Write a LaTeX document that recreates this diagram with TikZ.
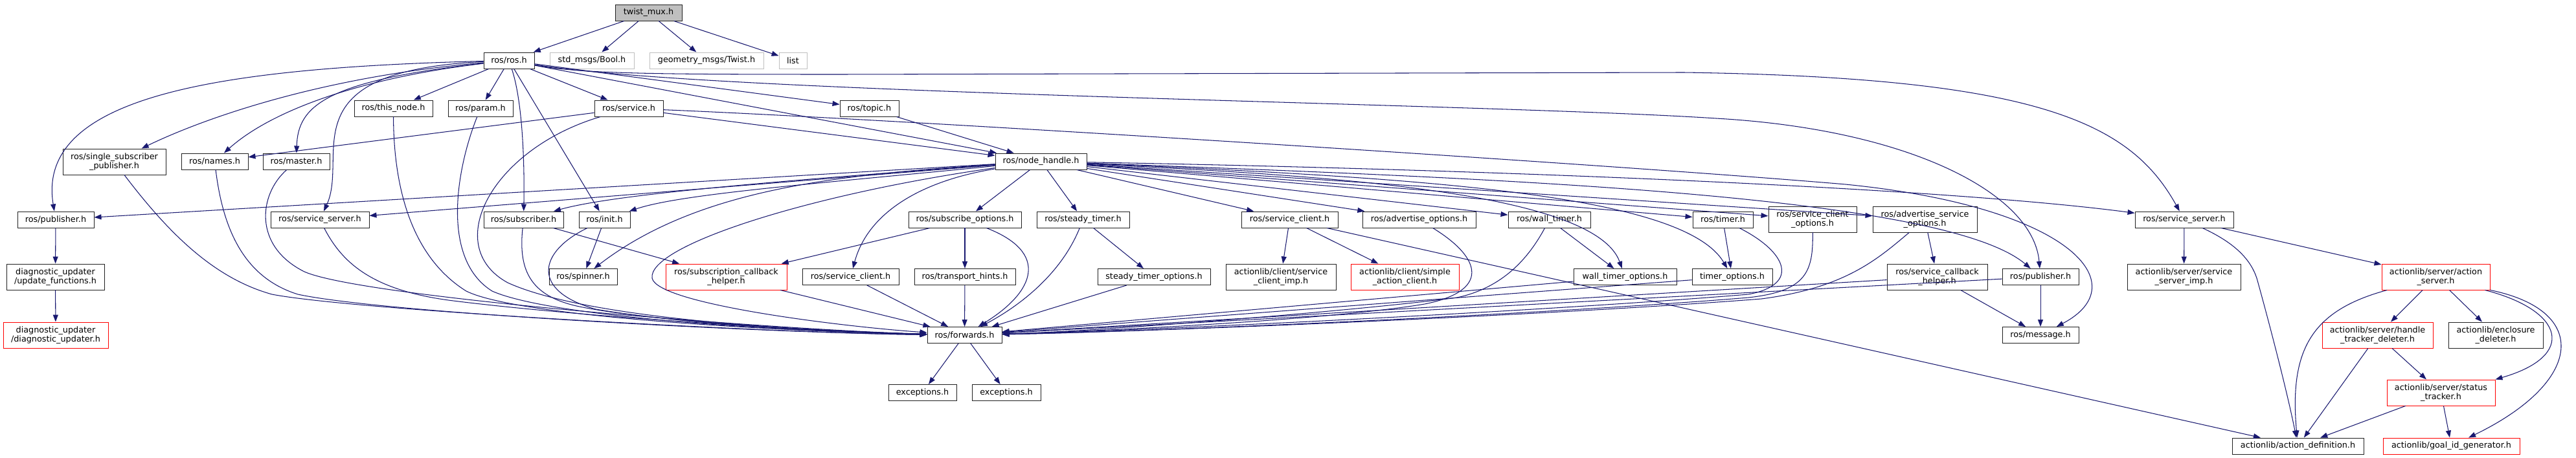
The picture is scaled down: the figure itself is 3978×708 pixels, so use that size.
\documentclass[tikz,border=0pt]{standalone}
\usepackage{fontspec}
\setmainfont{DejaVu Sans}
\usetikzlibrary{arrows.meta,calc}
\definecolor{edgec}{HTML}{191970}
\definecolor{grayc}{HTML}{BFBFBF}
\definecolor{redc}{HTML}{FF0000}
\definecolor{boxc}{HTML}{202020}
\begin{document}
\begin{tikzpicture}[x=1pt,y=-1pt,
  box/.style={draw=boxc, line width=0.95pt, rectangle, inner sep=0pt, align=center,
    font=\fontsize{12.8pt}{14.5pt}\selectfont, text=black},
  nb/.style={box},
  nr/.style={box, draw=redc},
  ng/.style={box, draw=grayc},
  ha/.style={minimum height=25pt},
  hb/.style={minimum height=40pt},
  conn/.style={draw=edgec, line width=1.05pt, -{Triangle[length=11pt,width=8pt]}}]
\useasboundingbox (0,0) rectangle (3978,708);
\fill[white] (0,0) rectangle (3978,708);

% row 0
\node[nb,ha,fill=grayc,minimum width=103pt] (twist) at (1001.5,19.5) {twist\_mux.h};
% row 1
\node[nb,ha,minimum width=78pt] (ros) at (786,93.5) {ros/ros.h};
\node[ng,ha,minimum width=130pt] (bool) at (914,93.5) {std\_msgs/Bool.h};
\node[ng,ha,minimum width=176pt] (twmsg) at (1091,93.5) {geometry\_msgs/Twist.h};
\node[ng,ha,minimum width=43pt] (list) at (1224.5,93.5) {list};
% row 2
\node[nb,ha,minimum width=121pt] (thisnode) at (607.5,167.5) {ros/this\_node.h};
\node[nb,ha,minimum width=100pt] (param) at (742,167.5) {ros/param.h};
\node[nb,ha,minimum width=106pt] (service) at (971,167.5) {ros/service.h};
\node[nb,ha,minimum width=91pt] (topic) at (1342.5,167.5) {ros/topic.h};
% row 3
\node[nb,hb,minimum width=159pt] (ssp) at (176.5,250) {ros/single\_subscriber\\\_publisher.h};
\node[nb,ha,minimum width=103pt] (names) at (331.5,249.5) {ros/names.h};
\node[nb,ha,minimum width=103pt] (master) at (457.5,249.5) {ros/master.h};
\node[nb,ha,minimum width=141pt] (nh) at (1607.5,249.5) {ros/node\_handle.h};
% row 4
\node[nb,ha,minimum width=118pt] (pubL) at (86,339.5) {ros/publisher.h};
\node[nb,ha,minimum width=152pt] (ssL) at (494,339.5) {ros/service\_server.h};
\node[nb,ha,minimum width=123pt] (sub) at (808.5,339.5) {ros/subscriber.h};
\node[nb,ha,minimum width=79pt] (init) at (933.5,339.5) {ros/init.h};
\node[nb,ha,minimum width=174pt] (subopt) at (1490,339.5) {ros/subscribe\_options.h};
\node[nb,ha,minimum width=143pt] (steady) at (1672.5,339.5) {ros/steady\_timer.h};
\node[nb,ha,minimum width=149pt] (scU) at (1991.5,339.5) {ros/service\_client.h};
\node[nb,ha,minimum width=175pt] (advopt) at (2191.5,339.5) {ros/advertise\_options.h};
\node[nb,ha,minimum width=127pt] (wall) at (2392.5,339.5) {ros/wall\_timer.h};
\node[nb,ha,minimum width=93pt] (timer) at (2660.5,339.5) {ros/timer.h};
\node[nb,hb,minimum width=136pt] (scopt) at (2799,339) {ros/service\_client\\\_options.h};
\node[nb,hb,minimum width=161pt] (asopt) at (2972.5,339) {ros/advertise\_service\\\_options.h};
\node[nb,ha,minimum width=152pt] (ssR) at (3373,339.5) {ros/service\_server.h};
% row 5
\node[nb,hb,minimum width=151pt] (upfun) at (85.5,428) {diagnostic\_updater\\/update\_functions.h};
\node[nb,ha,minimum width=105pt] (spinner) at (900.5,428) {ros/spinner.h};
\node[nr,hb,minimum width=187pt] (sch) at (1121.5,428) {ros/subscription\_callback\\\_helper.h};
\node[nb,ha,minimum width=149pt] (scL) at (1313.5,428) {ros/service\_client.h};
\node[nb,ha,minimum width=156pt] (transport) at (1490,428) {ros/transport\_hints.h};
\node[nb,ha,minimum width=174pt] (stopt) at (1782,428) {steady\_timer\_options.h};
\node[nb,hb,minimum width=170pt] (scimp) at (1978,428) {actionlib/client/service\\\_client\_imp.h};
\node[nr,hb,minimum width=167pt] (sac) at (2169.5,428) {actionlib/client/simple\\\_action\_client.h};
\node[nb,ha,minimum width=159pt] (wtopt) at (2509.5,428) {wall\_timer\_options.h};
\node[nb,ha,minimum width=124pt] (topt) at (2675,428) {timer\_options.h};
\node[nb,hb,minimum width=155pt] (sch2) at (2991.5,428) {ros/service\_callback\\\_helper.h};
\node[nb,ha,minimum width=118pt] (pubR) at (3151,428) {ros/publisher.h};
\node[nb,hb,minimum width=175pt] (ssimp) at (3372.5,428) {actionlib/server/service\\\_server\_imp.h};
\node[nr,hb,minimum width=167pt] (aserv) at (3761.5,428) {actionlib/server/action\\\_server.h};
% row 6
\node[nr,hb,minimum width=162pt] (diag) at (86,518) {diagnostic\_updater\\/diagnostic\_updater.h};
\node[nb,ha,minimum width=115pt] (fwd) at (1489.5,518) {ros/forwards.h};
\node[nb,ha,minimum width=118pt] (msg) at (3151,518) {ros/message.h};
\node[nr,hb,minimum width=171pt] (htd) at (3671.5,518) {actionlib/server/handle\\\_tracker\_deleter.h};
\node[nb,hb,minimum width=146pt] (encl) at (3854,518) {actionlib/enclosure\\\_deleter.h};
% row 7
\node[nb,ha,minimum width=105pt] (exca) at (1424.5,607) {exceptions.h};
\node[nb,ha,minimum width=106pt] (excb) at (1554,607) {exceptions.h};
\node[nr,hb,minimum width=167pt] (stat) at (3769.5,607) {actionlib/server/status\\\_tracker.h};
% row 8
\node[nb,ha,minimum width=203pt] (adef) at (3548.5,689.5) {actionlib/action\_definition.h};
\node[nr,ha,minimum width=211pt] (goal) at (3785.5,689.5) {actionlib/goal\_id\_generator.h};

% twist_mux
\draw[conn] (twist) -- (ros);
\draw[conn] (twist) -- (bool);
\draw[conn] (twist) -- (twmsg);
\draw[conn] (twist) -- (list);

% ros/ros.h
\draw[conn] (ros) .. controls (330,105) and (55,150) .. (pubL);
\draw[conn] (ros) .. controls (480,120) and (300,190) .. (ssp);
\draw[conn] (ros) .. controls (560,120) and (420,170) .. (names);
\draw[conn] (ros) .. controls (500,125) and (460,165) .. (master);
\draw[conn] (ros) .. controls (440,110) and (540,240) .. (ssL);
\draw[conn] (ros) -- (thisnode);
\draw[conn] (ros) -- (param);
\draw[conn] (ros) -- (service);
\draw[conn] (ros) .. controls (808,160) and (810,260) .. (sub);
\draw[conn] (ros) -- (init);
\draw[conn] (ros) -- (topic);
\draw[conn] (ros) -- (nh);
\draw[conn] (ros) .. controls (900,114) and (1000,115) .. (1300,115) -- (2600,112) .. controls (3150,120) and (3290,190) .. (ssR);
\draw[conn] (ros) .. controls (1100,145) and (2300,160) .. (2650,183) .. controls (2950,200) and (3140,300) .. (pubR);

% ros/service.h
\draw[conn] (service) -- (names);
\draw[conn] (service) -- (nh);
\draw[conn] (service) .. controls (760,230) and (680,380) .. (784,437) .. controls (900,490) and (1200,510) .. (fwd);
\draw[conn] (service) .. controls (1400,185) and (2500,255) .. (2850,285) .. controls (3200,320) and (3300,440) .. (msg);

\draw[conn] (topic) -- (nh);

% left nodes into forwards
\draw[conn] (thisnode) .. controls (608,300) and (640,400) .. (720,450) .. controls (800,490) and (1200,512) .. (fwd);
\draw[conn] (param) .. controls (705,260) and (680,400) .. (760,450) .. controls (850,490) and (1200,512) .. (fwd);
\draw[conn] (ssp) .. controls (260,360) and (330,430) .. (420,455) .. controls (550,480) and (1200,515) .. (fwd);
\draw[conn] (names) .. controls (345,360) and (380,430) .. (460,455) .. controls (600,485) and (1200,515) .. (fwd);
\draw[conn] (master) .. controls (400,300) and (390,380) .. (470,420) .. controls (560,460) and (1200,510) .. (fwd);
\draw[conn] (ssL) .. controls (530,410) and (580,450) .. (700,465) .. controls (900,490) and (1250,512) .. (fwd);
\draw[conn] (sub) .. controls (800,420) and (820,460) .. (900,475) .. controls (1000,495) and (1250,512) .. (fwd);
\draw[conn] (init) .. controls (830,390) and (820,450) .. (920,478) .. controls (1050,500) and (1250,512) .. (fwd);
\draw[conn] (init) -- (spinner);
\draw[conn] (sub) -- (sch);
\draw[conn] (sch) -- (fwd);

% ros/node_handle.h
\draw[conn] (nh) -- (pubL);
\draw[conn] (nh) -- (ssL);
\draw[conn] (nh) .. controls (1200,280) and (950,300) .. (sub);
\draw[conn] (nh) .. controls (1250,285) and (1050,300) .. (init);
\draw[conn] (nh) .. controls (1300,270) and (1080,290) .. (spinner);
\draw[conn] (nh) .. controls (1250,300) and (1000,380) .. (1007,430) .. controls (1015,470) and (1300,505) .. (fwd);
\draw[conn] (nh) .. controls (1420,280) and (1340,330) .. (scL);
\draw[conn] (nh) -- (subopt);
\draw[conn] (nh) -- (steady);
\draw[conn] (nh) -- (scU);
\draw[conn] (nh) -- (advopt);
\draw[conn] (nh) -- (wall);
\draw[conn] (nh) .. controls (2000,270) and (2460,290) .. (wtopt);
\draw[conn] (nh) -- (timer);
\draw[conn] (nh) .. controls (2200,275) and (2600,300) .. (topt);
\draw[conn] (nh) -- (scopt);
\draw[conn] (nh) -- (asopt);
\draw[conn] (nh) .. controls (2300,275) and (3000,300) .. (pubR);
\draw[conn] (nh) .. controls (2300,262) and (3000,290) .. (ssR);

% middle
\draw[conn] (subopt) -- (sch);
\draw[conn] (subopt) -- (transport);
\draw[conn] (subopt) .. controls (1620,390) and (1600,450) .. (fwd);
\draw[conn] (transport) -- (fwd);
\draw[conn] (scL) -- (fwd);
\draw[conn] (steady) .. controls (1640,420) and (1580,470) .. (fwd);
\draw[conn] (steady) -- (stopt);
\draw[conn] (stopt) -- (fwd);
\draw[conn] (scU) -- (scimp);
\draw[conn] (scU) -- (sac);
\draw[conn] (scU) -- (adef);

% right nodes into forwards
\draw[conn] (advopt) .. controls (2290,400) and (2300,450) .. (2200,470) .. controls (2050,495) and (1700,512) .. (fwd);
\draw[conn] (wall) .. controls (2360,400) and (2320,445) .. (2250,460) .. controls (2100,480) and (1700,512) .. (fwd);
\draw[conn] (wall) -- (wtopt);
\draw[conn] (wtopt) -- (fwd);
\draw[conn] (timer) -- (topt);
\draw[conn] (timer) .. controls (2760,390) and (2780,440) .. (2700,455) .. controls (2400,480) and (1800,510) .. (fwd);
\draw[conn] (topt) -- (fwd);
\draw[conn] (scopt) .. controls (2800,420) and (2790,450) .. (2700,460) .. controls (2400,485) and (1800,512) .. (fwd);
\draw[conn] (asopt) .. controls (2900,400) and (2850,445) .. (2720,462) .. controls (2400,487) and (1800,512) .. (fwd);
\draw[conn] (asopt) -- (sch2);
\draw[conn] (sch2) -- (fwd);
\draw[conn] (sch2) -- (msg);
\draw[conn] (pubR) -- (fwd);
\draw[conn] (pubR) -- (msg);

% actionlib
\draw[conn] (ssR) -- (ssimp);
\draw[conn] (ssR) .. controls (3450,375) and (3475,400) .. (3485,430) .. controls (3510,520) and (3535,620) .. (adef);
\draw[conn] (ssR) -- (aserv);
\draw[conn] (aserv) .. controls (3570,480) and (3535,540) .. (adef);
\draw[conn] (aserv) -- (htd);
\draw[conn] (aserv) -- (encl);
\draw[conn] ([xshift=-8pt]aserv.south east) .. controls (3960,480) and (3980,550) .. (stat.north east);
\draw[conn] (aserv.south east) .. controls (4000,480) and (3990,590) .. (goal);
\draw[conn] (htd) -- (adef);
\draw[conn] (htd) -- (stat);
\draw[conn] (stat) -- (adef);
\draw[conn] (stat) -- (goal);

% diagnostic
\draw[conn] (pubL) -- (upfun);
\draw[conn] (upfun) -- (diag);

% forwards
\draw[conn] (fwd) -- (exca);
\draw[conn] (fwd) -- (excb);
\end{tikzpicture}
\end{document}
